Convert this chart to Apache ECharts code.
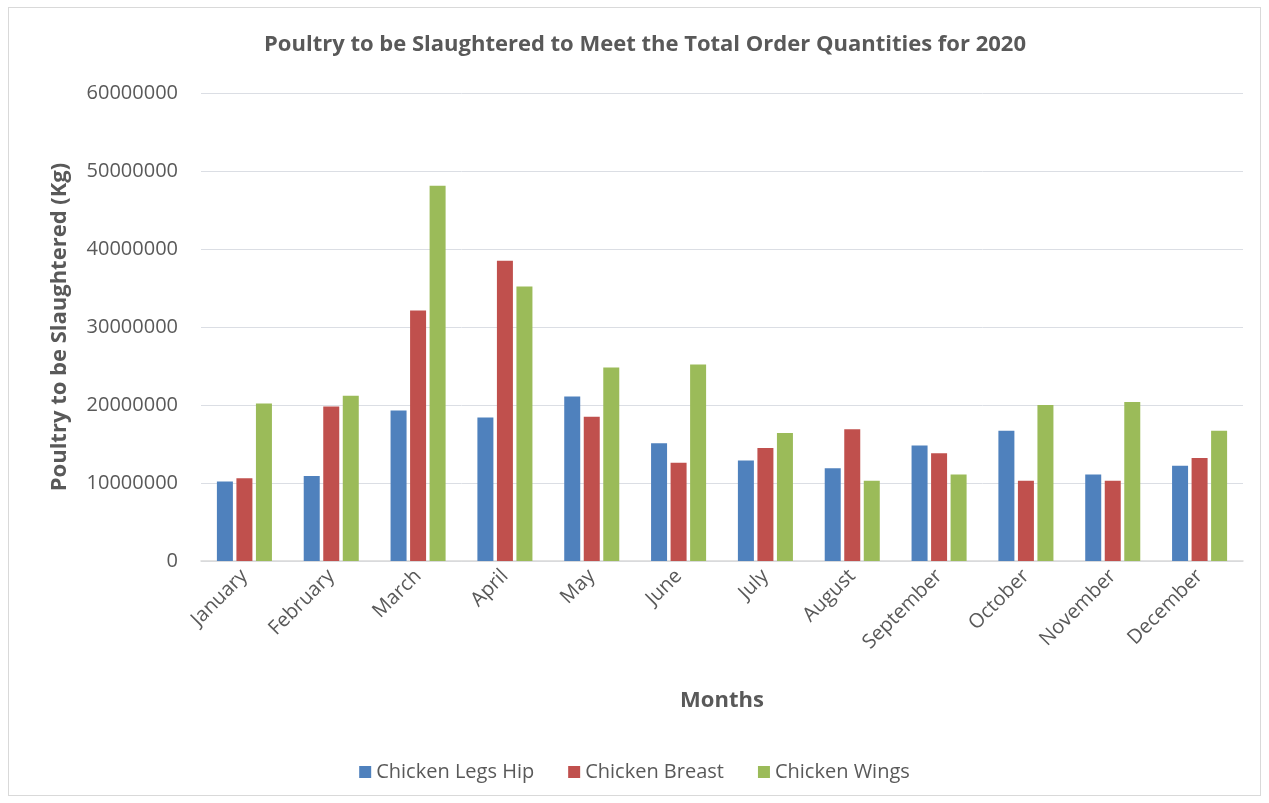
<!DOCTYPE html>
<html>
<head>
<meta charset="utf-8">
<script src="https://cdn.jsdelivr.net/npm/echarts@6/dist/echarts.min.js"></script>
<style>
html,body{margin:0;padding:0;background:#fff;}
#frame{position:absolute;left:8px;top:7px;width:1253px;height:789px;border:1px solid #d9d9d9;box-sizing:border-box;}
#chart{position:absolute;left:0;top:0;width:1269px;height:803px;}
</style>
</head>
<body>
<div id="frame"></div>
<div id="chart"></div>
<script>
const months = ["January","February","March","April","May","June","July","August","September","October","November","December"];
const legsHip = [10200000,10900000,19300000,18400000,21100000,15100000,12900000,11900000,14800000,16700000,11100000,12200000];
const breast = [10600000,19800000,32100000,38500000,18500000,12600000,14500000,16900000,13800000,10300000,10300000,13200000];
const wings = [20200000,21200000,48100000,35200000,24800000,25200000,16400000,10300000,11100000,20000000,20400000,16700000];
const yTicks = {min:0, max:60000000, interval:10000000};

const font = '"Open Sans", "Noto Sans", sans-serif';
const chart = echarts.init(document.getElementById('chart'), null, {renderer:'canvas'});
const mk = (name, data, color) => ({
  name, type:'bar', data, barWidth:16, barGap:'22%',
  itemStyle:{color}
});
chart.setOption({
  animation:false,
  textStyle:{fontFamily:font},
  title:{text:'Poultry to be Slaughtered to Meet the Total Order Quantities for 2020',
    left:640, top:29, textAlign:'center',
    textStyle:{fontFamily:font,fontSize:22,fontWeight:'bold',color:'#595959'}},
  grid:{left:201, right:26, top:93, bottom:242, containLabel:false},
  legend:{bottom:16, left:'center', itemWidth:12, itemHeight:12, itemGap:34,
    icon:'rect', textStyle:{fontFamily:font,fontSize:20,color:'#595959'},
    data:['Chicken Legs Hip','Chicken Breast','Chicken Wings']},
  xAxis:{type:'category', data:months,
    name:'Months', nameLocation:'middle', nameGap:129,
    nameTextStyle:{fontFamily:font,fontSize:22,fontWeight:'bold',color:'#595959'},
    axisLine:{lineStyle:{color:'#d9d9d9',width:1.5}}, axisTick:{show:false},
    axisLabel:{rotate:45, interval:0, fontSize:20, color:'#595959', margin:12}},
  yAxis:{type:'value', min:yTicks.min, max:yTicks.max, interval:yTicks.interval,
    name:'Poultry to be Slaughtered (Kg)', nameLocation:'middle', nameGap:130,
    nameTextStyle:{fontFamily:font,fontSize:22,fontWeight:'bold',color:'#595959'},
    axisLine:{show:false}, axisTick:{show:false},
    axisLabel:{fontSize:20,color:'#595959',margin:23,formatter:v=>String(v)}},
  series:[mk('Chicken Legs Hip',legsHip,'#4f81bd'), mk('Chicken Breast',breast,'#c0504d'), mk('Chicken Wings',wings,'#9bbb59')]
});
</script>
</body>
</html>
